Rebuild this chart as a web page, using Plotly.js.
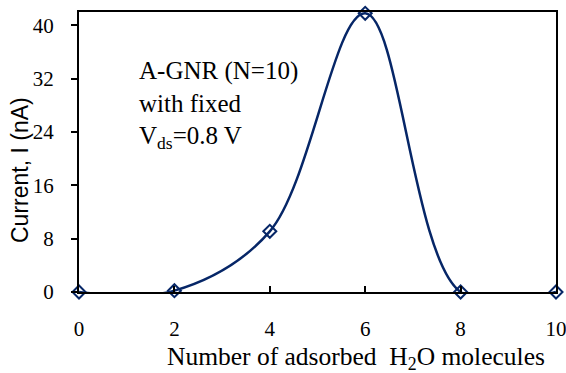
<!DOCTYPE html>
<html>
<head>
<meta charset="utf-8">
<script src="https://cdn.plot.ly/plotly-3.0.1.min.js"></script>
<style>html,body{margin:0;padding:0;background:#fff;}#chart{width:566px;height:373px;}</style>
</head>
<body>
<div id="chart"></div>
<script>
// Data
const molecules = [0, 2, 4, 6, 8, 10];
const currentNA = [0, 0.2, 9.1, 41.8, 0, 0];
const xTicks = [0, 2, 4, 6, 8, 10];
const yTicks = [0, 8, 16, 24, 32, 40];
const xTitle = 'Number of adsorbed&nbsp; H<sub>2</sub>O molecules';
const yTitle = 'Current, I (nA)';
const noteText = 'A-GNR (N=10)<br>with fixed<br>V<sub>ds</sub>=0.8 V';

const serif = 'Times New Roman, Liberation Serif, Times, serif';
const sans = 'Liberation Sans, Arial, sans-serif';
const navy = '#062667';

const trace = {
  x: molecules,
  y: currentNA,
  type: 'scatter',
  mode: 'lines+markers',
  line: {shape: 'spline', smoothing: 1, color: navy, width: 2.5},
  marker: {symbol: 'diamond-open', size: 10, color: navy, line: {width: 2, color: navy}},
  cliponaxis: false,
  showlegend: false,
  hoverinfo: 'x+y'
};

const layout = {
  width: 566,
  height: 373,
  margin: {l: 79, r: 10, t: 12, b: 81, pad: 0},
  paper_bgcolor: '#ffffff',
  plot_bgcolor: '#ffffff',
  showlegend: false,
  font: {family: serif, color: '#000'},
  xaxis: {
    range: [0, 10],
    tickvals: xTicks,
    ticktext: xTicks.map(String),
    ticks: 'inside',
    ticklen: 6,
    tickwidth: 2,
    tickcolor: '#000',
    ticklabelstandoff: 17,
    ticklabeloverflow: 'allow',
    showline: true,
    linewidth: 2,
    linecolor: '#000',
    mirror: true,
    showgrid: false,
    zeroline: false,
    tickfont: {family: serif, size: 21, color: '#000'}
  },
  yaxis: {
    range: [0, 42],
    tickvals: yTicks,
    ticktext: yTicks.map(String),
    ticks: 'outside',
    ticklen: 6,
    tickwidth: 2,
    tickcolor: '#000',
    ticklabelstandoff: 13,
    showline: true,
    linewidth: 2,
    linecolor: '#000',
    mirror: true,
    showgrid: false,
    zeroline: false,
    tickfont: {family: serif, size: 21, color: '#000'}
  },
  annotations: [
    {
      text: noteText,
      xref: 'paper', yref: 'paper',
      x: (137 - 79) / 477, y: (292 - 55) / 280,
      xanchor: 'left', yanchor: 'top', align: 'left',
      showarrow: false,
      font: {family: serif, size: 25, color: '#000'}
    },
    {
      text: xTitle,
      xref: 'paper', yref: 'paper',
      x: (356 - 79) / 477, y: (292 - 358) / 280,
      xanchor: 'center', yanchor: 'middle',
      showarrow: false,
      font: {family: serif, size: 25.5, color: '#000'}
    },
    {
      text: yTitle,
      xref: 'paper', yref: 'paper',
      x: (20 - 79) / 477, y: (292 - 170) / 280,
      xanchor: 'center', yanchor: 'middle',
      textangle: -90,
      showarrow: false,
      font: {family: sans, size: 23, color: '#000'}
    }
  ]
};

Plotly.newPlot('chart', [trace], layout, {staticPlot: true, displayModeBar: false});
</script>
</body>
</html>
